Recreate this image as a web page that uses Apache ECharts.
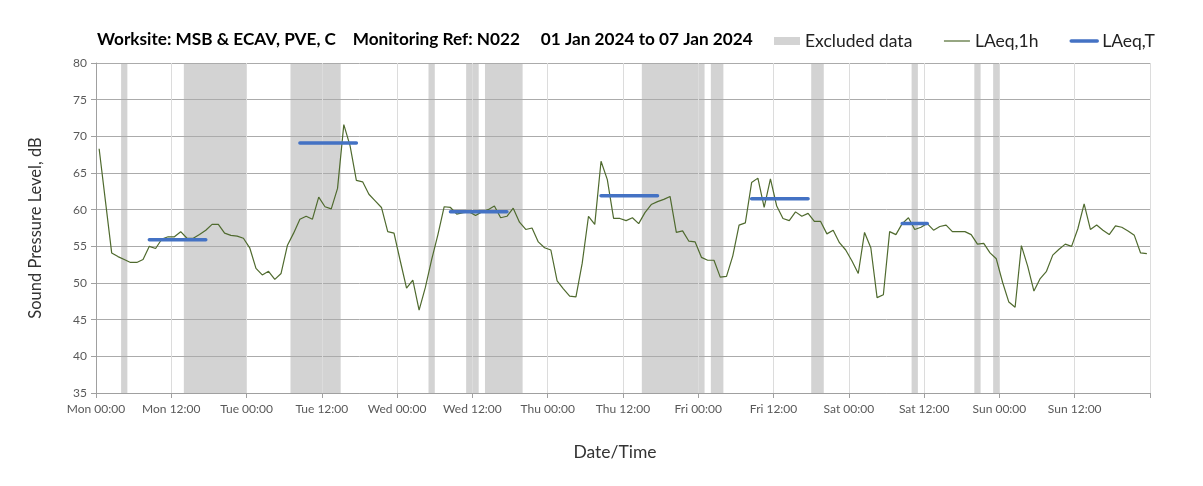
<!DOCTYPE html>
<html>
<head>
<meta charset="utf-8">
<script src="https://cdn.jsdelivr.net/npm/echarts@6/dist/echarts.min.js"></script>
<style>
    html, body {
        margin: 0;
        padding: 0;
        background: #fff;
    }
    #chart {
        width: 1203px;
        height: 486px;
    }
</style>
</head>
<body>
<div id="chart"></div>
<script>
    // hourly LAeq,1h values, Mon 00:00 -> Sun 23:00 (plotted at mid hour)
    const laeq1h = [
        68.3, 61.2, 54.1, 53.6, 53.2, 52.8, 52.8, 53.2, 55.0, 54.7, 56.0, 56.3,
        56.3, 57.0, 56.1, 56.1, 56.6, 57.2, 58.0, 58.0, 56.8, 56.5, 56.4, 56.1,
        54.8, 52.0, 51.1, 51.6, 50.5, 51.3, 55.1, 56.8, 58.7, 59.1, 58.7, 61.7,
        60.4, 60.1, 62.9, 71.6, 68.7, 64.0, 63.8, 62.1, 61.2, 60.3, 57.0, 56.8,
        53.0, 49.3, 50.4, 46.3, 49.4, 53.2, 56.6, 60.4, 60.3, 59.4, 59.6, 59.7,
        59.2, 59.7, 60.0, 60.5, 58.9, 59.1, 60.2, 58.3, 57.3, 57.5, 55.6, 54.8,
        54.5, 50.3, 49.2, 48.2, 48.1, 52.7, 59.1, 58.0, 66.6, 64.1, 58.8, 58.8,
        58.5, 58.9, 58.1, 59.6, 60.7, 61.1, 61.4, 61.8, 56.9, 57.1, 55.7, 55.6,
        53.5, 53.1, 53.1, 50.8, 50.9, 53.7, 57.9, 58.2, 63.7, 64.3, 60.3, 64.2,
        60.5, 58.8, 58.5, 59.7, 59.1, 59.5, 58.4, 58.4, 56.7, 57.2, 55.5, 54.5,
        53.0, 51.3, 56.9, 54.8, 48.0, 48.4, 57.0, 56.6, 58.1, 58.9, 57.3, 57.6,
        58.1, 57.2, 57.7, 57.9, 57.0, 57.0, 57.0, 56.6, 55.3, 55.4, 54.1, 53.3,
        50.1, 47.4, 46.7, 55.1, 52.3, 48.9, 50.6, 51.6, 53.8, 54.6, 55.3, 55.0,
        57.4, 60.8, 57.3, 57.9, 57.2, 56.6, 57.8, 57.6, 57.1, 56.5, 54.1, 54.0
    ]

    // LAeq,T periods (hours from Mon 00:00)
    const periodStart = [8.5, 32.5, 56.5, 80.5, 104.5, 128.5]
    const periodEnd = [17.5, 41.5, 65.5, 89.5, 113.5, 132.5]
    const periodLevel = [55.9, 69.1, 59.7, 61.9, 61.5, 58.1]

    // excluded data blocks (hours from Mon 00:00)
    const excludedStart = [4, 14, 31, 53, 59, 62, 87, 98, 114, 130, 140, 143]
    const excludedEnd = [5, 24, 39, 54, 61, 68, 97, 100, 116, 131, 141, 144]

    const xTickLabels = [
        'Mon 00:00', 'Mon 12:00', 'Tue 00:00', 'Tue 12:00', 'Wed 00:00', 'Wed 12:00',
        'Thu 00:00', 'Thu 12:00', 'Fri 00:00', 'Fri 12:00', 'Sat 00:00', 'Sat 12:00',
        'Sun 00:00', 'Sun 12:00'
    ]

    const font = 'Lato'
    const labelColor = '#595959'

    let hourlyData = laeq1h.map((v, i) => [i + 0.5, v])

    let periodData = []
    periodStart.forEach((s, i) => {
        periodData.push([s, periodLevel[i]])
        periodData.push([periodEnd[i], periodLevel[i]])
        periodData.push([periodEnd[i], '-'])
    })

    let excludedAreas = excludedStart.map((s, i) => [{xAxis: s}, {xAxis: excludedEnd[i]}])

    let myChart = echarts.init(document.getElementById('chart'))
    myChart.setOption({
        animation: false,
        title: {
            text: 'Worksite: MSB & ECAV, PVE, C    Monitoring Ref: N022     01 Jan 2024 to 07 Jan 2024',
            left: 92,
            top: 26,
            textStyle: {
                fontFamily: font,
                fontSize: 17.2,
                fontWeight: 'bold',
                color: '#000'
            }
        },
        legend: {
            left: 769,
            top: 27,
            itemGap: 31,
            itemWidth: 26,
            itemHeight: 8,
            textStyle: {
                fontFamily: font,
                fontSize: 17.5,
                color: '#222'
            },
            data: [
                {name: 'Excluded data', icon: 'rect'},
                {name: 'LAeq,1h', itemStyle: {opacity: 0}, lineStyle: {width: 1.2}},
                {name: 'LAeq,T', itemStyle: {opacity: 0}, lineStyle: {width: 3.5}}
            ]
        },
        grid: {
            left: 96,
            right: 53,
            top: 63,
            bottom: 93
        },
        xAxis: {
            type: 'value',
            min: 0,
            max: 168,
            interval: 12,
            name: 'Date/Time',
            nameLocation: 'middle',
            nameGap: 50,
            nameTextStyle: {
                fontFamily: font,
                fontSize: 17.5,
                color: '#333',
                padding: [0, 16, 0, 0]
            },
            axisLine: {
                lineStyle: {color: '#a0a0a0'}
            },
            axisTick: {
                show: true,
                length: 5,
                lineStyle: {color: '#a0a0a0'}
            },
            axisLabel: {
                margin: 10,
                fontFamily: font,
                fontSize: 12,
                color: labelColor,
                formatter: v => xTickLabels[v / 12] || ''
            },
            splitLine: {
                show: true,
                lineStyle: {color: '#dcdcdc', width: 1}
            }
        },
        yAxis: {
            type: 'value',
            min: 35,
            max: 80,
            interval: 5,
            name: 'Sound Pressure Level, dB',
            nameLocation: 'middle',
            nameGap: 52,
            nameTextStyle: {
                fontFamily: font,
                fontSize: 16.5,
                color: '#333'
            },
            axisLine: {
                show: true,
                lineStyle: {color: '#a0a0a0'}
            },
            axisTick: {
                show: true,
                length: 5,
                lineStyle: {color: '#a0a0a0'}
            },
            axisLabel: {
                margin: 9,
                fontFamily: font,
                fontSize: 12,
                color: labelColor
            },
            splitLine: {
                lineStyle: {color: '#ababab', width: 1}
            }
        },
        series: [
            {
                name: 'Excluded data',
                type: 'line',
                z: -1,
                symbol: 'none',
                data: [],
                itemStyle: {color: '#d3d3d3'},
                lineStyle: {color: '#d3d3d3'},
                markArea: {
                    silent: true,
                    z: -1,
                    itemStyle: {color: '#d3d3d3'},
                    data: excludedAreas
                }
            },
            {
                name: 'LAeq,1h',
                type: 'line',
                data: hourlyData,
                symbol: 'none',
                itemStyle: {color: '#4f6a2e'},
                lineStyle: {color: '#4f6a2e', width: 1.2}
            },
            {
                name: 'LAeq,T',
                type: 'line',
                data: periodData,
                symbol: 'none',
                connectNulls: false,
                itemStyle: {color: '#4472c4'},
                lineStyle: {color: '#4472c4', width: 3.5, cap: 'round'}
            }
        ]
    })
</script>
</body>
</html>
